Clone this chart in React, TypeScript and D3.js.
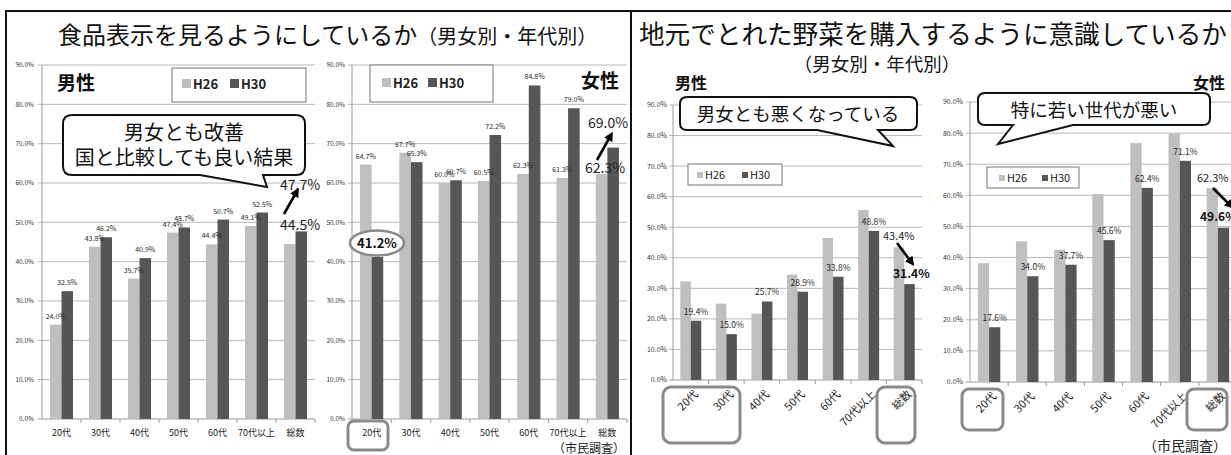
import React from 'react';
import * as d3 from 'd3';

// Age groups shared by all four charts
const ageGroups = ['20代', '30代', '40代', '50代', '60代', '70代以上', '総数'];
const seriesNames = ['H26', 'H30'];
const yTickValues = [0, 10, 20, 30, 40, 50, 60, 70, 80, 90];

// 食品表示を見るようにしているか (%)
const labelMaleH26 = [24.0, 43.8, 35.7, 47.4, 44.4, 49.1, 44.5];
const labelMaleH30 = [32.5, 46.2, 40.9, 48.7, 50.7, 52.5, 47.7];
const labelFemaleH26 = [64.7, 67.7, 60.0, 60.5, 62.3, 61.3, 62.3];
const labelFemaleH30 = [41.2, 65.3, 60.7, 72.2, 84.8, 79.0, 69.0];

// 地元でとれた野菜を購入するように意識しているか (%)
const localMaleH26 = [32.3, 25.0, 21.7, 34.5, 46.5, 55.6, 43.4];
const localMaleH30 = [19.4, 15.0, 25.7, 28.9, 33.8, 48.8, 31.4];
const localFemaleH26 = [38.2, 45.2, 42.5, 60.4, 76.8, 79.8, 62.3];
const localFemaleH30 = [17.6, 34.0, 37.7, 45.6, 62.4, 71.1, 49.6];

const C_H26 = '#bfbfbf';
const C_H30 = '#565656';
const GRID = '#b8b8b8';
const FONT = '"Noto Sans CJK JP", "Noto Sans", sans-serif';
const pct = (v: number) => d3.format('.1f')(v) + '%';

type Geo = {
  x0: number; x1: number; yTop: number; yBottom: number;
};

function scales(g: Geo) {
  const x = d3.scaleBand<string>().domain(ageGroups).range([g.x0, g.x1]).padding(0);
  const y = d3.scaleLinear().domain([0, 90]).range([g.yBottom, g.yTop]);
  return { x, y };
}

type ChartProps = Geo & {
  h26: number[];
  h30: number[];
  tickX: number;
  tickFont: number;
  valueFont: number;
  catFont: number;
  rotate: boolean;
  catY?: number;
  showLabel: (series: number, i: number) => boolean;
};

function BarChart(p: ChartProps) {
  const { x, y } = scales(p);
  const bw = x.bandwidth();
  const barW = bw * 0.295;
  return (
    <g fontFamily={FONT}>
      {yTickValues.map((t) => (
        <g key={t}>
          <line x1={p.x0 - 4} x2={p.x1} y1={y(t)} y2={y(t)} stroke={t === 0 ? '#999' : GRID} strokeWidth={1} />
          <text x={p.tickX} y={y(t)} dy="0.35em" textAnchor="end" fontSize={p.tickFont} fill="#333">
            {pct(t)}
          </text>
        </g>
      ))}
      <line x1={p.x0} x2={p.x0} y1={p.yTop} y2={p.yBottom} stroke="#999" />
      {ageGroups.map((c) => (
        <line key={'tk' + c} x1={x(c)! + bw} x2={x(c)! + bw} y1={p.yBottom} y2={p.yBottom + 4} stroke="#999" />
      ))}
      {ageGroups.map((c, i) => {
        const xc = x(c)! + bw / 2;
        return (
          <g key={c}>
            <rect x={xc - barW} y={y(p.h26[i])} width={barW} height={y(0) - y(p.h26[i])} fill={C_H26} />
            <rect x={xc} y={y(p.h30[i])} width={barW} height={y(0) - y(p.h30[i])} fill={C_H30} />
            {p.showLabel(0, i) && (
              <text x={xc - barW / 2} y={y(p.h26[i]) - 6} textAnchor="middle" fontSize={p.valueFont} fill="#2a2a2a">
                {pct(p.h26[i])}
              </text>
            )}
            {p.showLabel(1, i) && (
              <text x={xc + barW / 2} y={y(p.h30[i]) - 6} textAnchor="middle" fontSize={p.valueFont} fill="#2a2a2a">
                {pct(p.h30[i])}
              </text>
            )}
            {p.rotate ? (
              <text
                transform={`translate(${xc + 8},${p.yBottom + 15}) rotate(-45)`}
                textAnchor="end"
                fontSize={p.catFont}
                fill="#222"
              >
                {c}
              </text>
            ) : (
              <text x={xc} y={p.catY} textAnchor="middle" fontSize={p.catFont} fill="#222">
                {c}
              </text>
            )}
          </g>
        );
      })}
    </g>
  );
}

type LegendProps = {
  x: number; y: number; w: number; h: number;
  font: number; sq: number; items: number[]; textOff: number; baseline: number; bold?: boolean;
};

function Legend(p: LegendProps) {
  const colors = [C_H26, C_H30];
  return (
    <g fontFamily={FONT}>
      <rect x={p.x} y={p.y} width={p.w} height={p.h} fill="#fff" stroke="#777" strokeWidth={1} />
      {seriesNames.map((s, i) => (
        <g key={s}>
          <rect x={p.items[i]} y={p.baseline - p.sq - 1} width={p.sq} height={p.sq} fill={colors[i]} />
          <text
            x={p.items[i] + p.sq + p.textOff}
            y={p.baseline}
            fontSize={p.font}
            fontWeight={p.bold ? 'bold' : 'normal'}
            fill="#222"
          >
            {s}
          </text>
        </g>
      ))}
    </g>
  );
}

function calloutPath(x: number, y: number, w: number, h: number, r: number, b1: number, b2: number, tx: number, ty: number) {
  return [
    `M${x + r},${y}`,
    `H${x + w - r}`,
    `Q${x + w},${y} ${x + w},${y + r}`,
    `V${y + h - r}`,
    `Q${x + w},${y + h} ${x + w - r},${y + h}`,
    `H${b2}`,
    `L${tx},${ty}`,
    `L${b1},${y + h}`,
    `H${x + r}`,
    `Q${x},${y + h} ${x},${y + h - r}`,
    `V${y + r}`,
    `Q${x},${y} ${x + r},${y}`,
    'Z',
  ].join(' ');
}

function Arrow({ x1, y1, x2, y2 }: { x1: number; y1: number; x2: number; y2: number }) {
  return <line x1={x1} y1={y1} x2={x2} y2={y2} stroke="#000" strokeWidth={2.6} markerEnd="url(#arrowHead)" />;
}

export default function App() {
  const W = 1231;
  const H = 455;

  const gLM: Geo = { x0: 42, x1: 315, yTop: 65, yBottom: 419 };
  const gLF: Geo = { x0: 352, x1: 627, yTop: 65, yBottom: 419 };
  const gRM: Geo = { x0: 673, x1: 922, yTop: 105, yBottom: 380 };
  const gRF: Geo = { x0: 970, x1: 1237, yTop: 102, yBottom: 382 };

  const last = ageGroups.length - 1;

  return (
    <svg
      width={W}
      height={H}
      viewBox={`0 0 ${W} ${H}`}
      style={{ position: 'absolute', left: 0, top: 0, background: '#fff' }}
      fontFamily={FONT}
    >
      <defs>
        <marker id="arrowHead" viewBox="0 0 10 10" refX="6" refY="5" markerWidth="3.6" markerHeight="3.6" orient="auto">
          <path d="M0,0 L10,5 L0,10 z" fill="#000" />
        </marker>
      </defs>
      <rect x={0} y={0} width={W} height={H} fill="#fff" />

      {/* panel frames */}
      <line x1={6} x2={6} y1={11} y2={H} stroke="#111" strokeWidth={2} />
      <line x1={5} x2={W} y1={11} y2={11} stroke="#111" strokeWidth={2} />
      <line x1={631} x2={631} y1={11} y2={H} stroke="#111" strokeWidth={2} />

      {/* titles */}
      <text x={58} y={44} fontSize={24} fill="#111">
        食品表示を見るようにしているか
        <tspan fontSize={20}>（男女別・年代別）</tspan>
      </text>
      <text x={639} y={44} fontSize={25.6} fill="#111">
        地元でとれた野菜を購入するように意識しているか
      </text>
      <text x={877} y={71} fontSize={18.5} textAnchor="middle" fill="#111">
        （男女別・年代別）
      </text>

      {/* 食品表示: 男性 */}
      <BarChart
        {...gLM}
        h26={labelMaleH26}
        h30={labelMaleH30}
        tickX={34}
        tickFont={6.5}
        valueFont={7}
        catFont={9}
        catY={436}
        rotate={false}
        showLabel={(s, i) => i < last}
      />
      {/* 食品表示: 女性 */}
      <BarChart
        {...gLF}
        h26={labelFemaleH26}
        h30={labelFemaleH30}
        tickX={345}
        tickFont={6.5}
        valueFont={7}
        catFont={9}
        catY={436}
        rotate={false}
        showLabel={(s, i) => i < last && !(s === 1 && i === 0)}
      />
      {/* 地元野菜: 男性 */}
      <BarChart
        {...gRM}
        h26={localMaleH26}
        h30={localMaleH30}
        tickX={667}
        tickFont={7}
        valueFont={8.5}
        catFont={11}
        rotate={true}
        showLabel={(s, i) => s === 1 && i < last}
      />
      {/* 地元野菜: 女性 */}
      <BarChart
        {...gRF}
        h26={localFemaleH26}
        h30={localFemaleH30}
        tickX={963}
        tickFont={7}
        valueFont={8.5}
        catFont={11}
        rotate={true}
        showLabel={(s, i) => s === 1 && i < last}
      />

      {/* sex labels */}
      <text x={57} y={90} fontSize={19} fontWeight="bold" fill="#111">男性</text>
      <text x={619} y={88} fontSize={19} fontWeight="bold" textAnchor="end" fill="#111">女性</text>
      <text x={675} y={89} fontSize={16} fontWeight="bold" fill="#111">男性</text>
      <text x={1225} y={89} fontSize={16} fontWeight="bold" textAnchor="end" fill="#111">女性</text>

      {/* legends */}
      <Legend x={172} y={68} w={134} h={34} font={13} sq={9} items={[182, 230]} textOff={2} baseline={89} bold />
      <Legend x={370} y={65} w={123} h={37} font={13} sq={9} items={[382, 428]} textOff={2} baseline={88} bold />
      <Legend x={688} y={164} w={94} h={21} font={11} sq={6} items={[697, 742]} textOff={2} baseline={179} />
      <Legend x={987} y={167} w={92} h={21} font={11} sq={6} items={[999, 1042]} textOff={2} baseline={182} />

      {/* callouts */}
      <path d={calloutPath(63, 115, 242, 60, 9, 200, 263, 267, 187)} fill="#fff" stroke="#111" strokeWidth={2} />
      <text x={184} y={140} fontSize={20} textAnchor="middle" fill="#111">男女とも改善</text>
      <text x={184} y={165} fontSize={20} textAnchor="middle" fill="#111">国と比較しても良い結果</text>

      <path d={calloutPath(680, 97, 237, 33, 7, 817, 878, 893, 146)} fill="#fff" stroke="#111" strokeWidth={2} />
      <text x={798} y={121} fontSize={18.5} textAnchor="middle" fill="#111">男女とも悪くなっている</text>

      <path d={calloutPath(978, 93, 232, 32, 7, 1013, 1073, 998, 144)} fill="#fff" stroke="#111" strokeWidth={2} />
      <text x={1094} y={117} fontSize={18.5} textAnchor="middle" fill="#111">特に若い世代が悪い</text>

      {/* 総数 changes: 食品表示 */}
      <text x={280} y={190} fontSize={14} fill="#222">{pct(labelMaleH30[last])}</text>
      <text x={280} y={230} fontSize={14} fill="#222">{pct(labelMaleH26[last])}</text>
      <Arrow x1={284} y1={214} x2={297} y2={191} />

      <text x={588} y={128} fontSize={14} fill="#222">{pct(labelFemaleH30[last])}</text>
      <text x={585} y={173} fontSize={14} fill="#222">{pct(labelFemaleH26[last])}</text>
      <Arrow x1={597} y1={160} x2={611} y2={135} />

      {/* 女性20代 H30 highlight */}
      <ellipse cx={377} cy={243} rx={27} ry={12.5} fill="#fff" stroke="#8a8a8a" strokeWidth={2.6} />
      <text x={377} y={248} fontSize={13} fontWeight="bold" textAnchor="middle" fill="#111">
        {pct(labelFemaleH30[0])}
      </text>
      <rect x={348} y={421} width={40} height={29} rx={6} fill="none" stroke="#8a8a8a" strokeWidth={3} />

      {/* 総数 changes: 地元野菜 */}
      <text x={883} y={240} fontSize={11} fill="#222">{pct(localMaleH26[last])}</text>
      <text x={893} y={278} fontSize={12} fontWeight="bold" fill="#111">{pct(localMaleH30[last])}</text>
      <Arrow x1={897} y1={243} x2={912} y2={263} />

      <text x={1197} y={182} fontSize={11} fill="#222">{pct(localFemaleH26[last])}</text>
      <text x={1200} y={221} fontSize={12} fontWeight="bold" fill="#111">{pct(localFemaleH30[last])}</text>
      <Arrow x1={1213} y1={188} x2={1231} y2={206} />

      {/* highlighted age groups */}
      <rect x={663} y={387} width={77} height={56} rx={8} fill="none" stroke="#8a8a8a" strokeWidth={3} />
      <rect x={877} y={387} width={38} height={56} rx={8} fill="none" stroke="#8a8a8a" strokeWidth={3} />
      <rect x={962} y={389} width={41} height={41} rx={7} fill="none" stroke="#8a8a8a" strokeWidth={3} />
      <rect x={1187} y={389} width={40} height={41} rx={7} fill="none" stroke="#8a8a8a" strokeWidth={3} />

      {/* source */}
      <text x={625} y={453} fontSize={12} textAnchor="end" fill="#222">（市民調査）</text>
      <text x={1227} y={451} fontSize={14} textAnchor="end" fill="#222">（市民調査）</text>
    </svg>
  );
}
